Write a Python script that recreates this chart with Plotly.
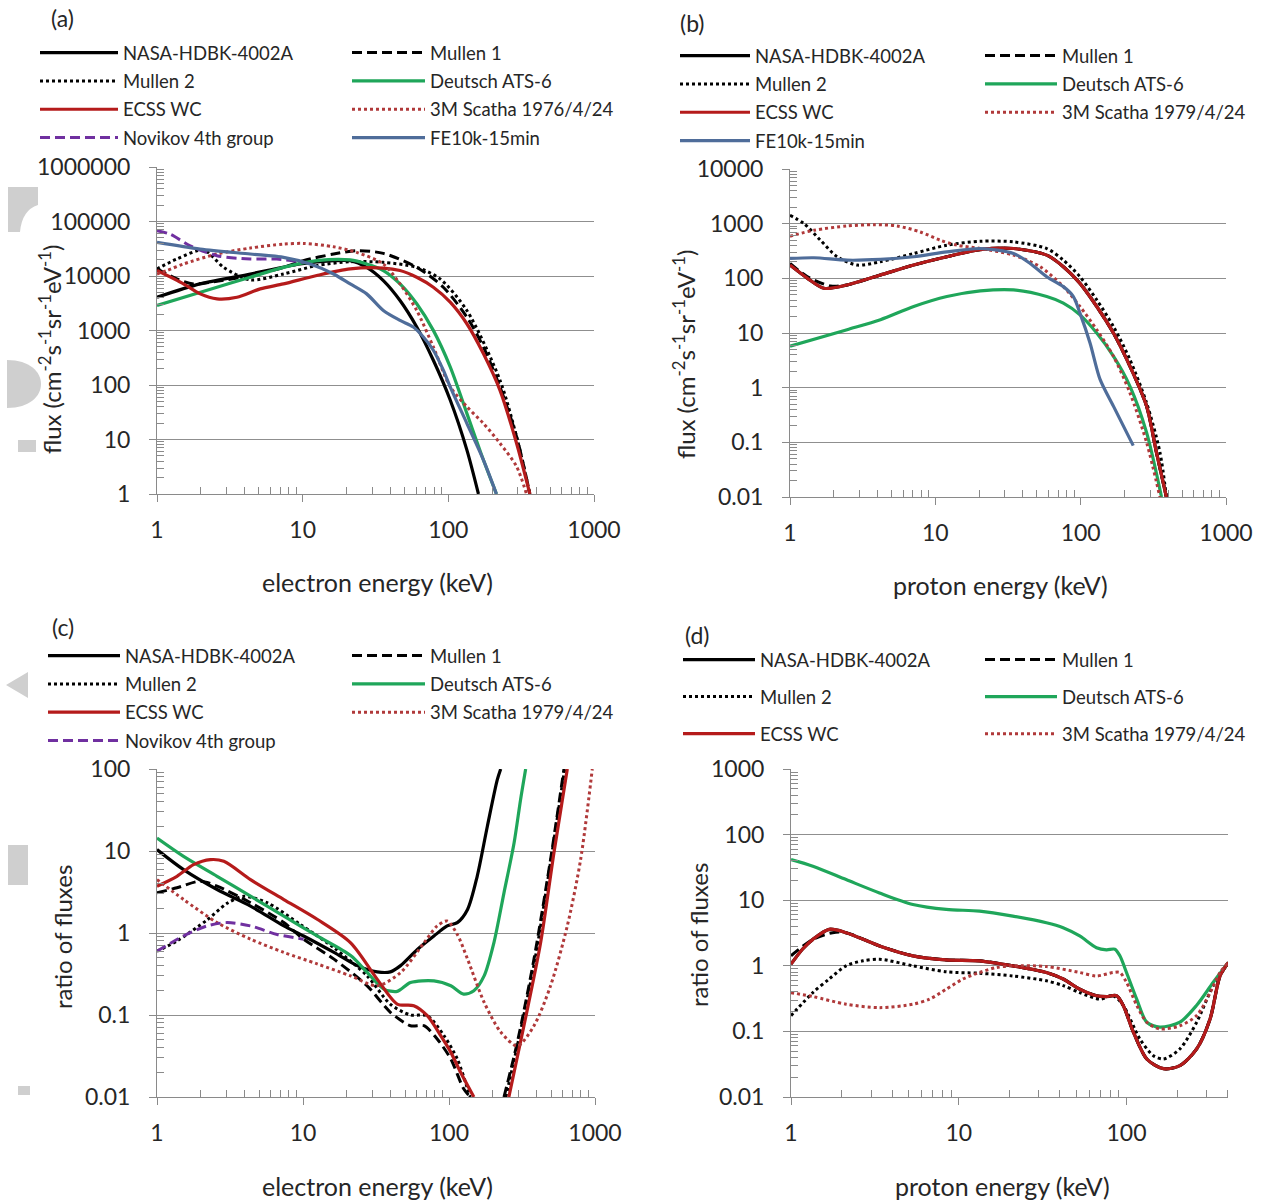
import plotly.graph_objects as go

W, H = 1264, 1202

# ---------------- Panel (a): electron flux ----------------
A_NASA_E = [1, 1.98, 4.37, 9.6, 16.3, 21.2, 27.5, 35.8, 46.6, 60.7, 78.9, 103, 134, 161]
A_NASA_F = [4070, 7160, 10900, 16600, 19100, 19100, 14400, 8240, 3550, 1160, 284, 53, 6.46, 1]
A_M1_E = [1, 1.37, 1.78, 2.58, 4.37, 7.39, 10.1, 16.3, 23.5, 35.8, 60.7, 92.4, 134, 174, 226, 294, 363]
A_M1_F = [13500, 8840, 7160, 8020, 10200, 14400, 19100, 25300, 29100, 26000, 14400, 6220, 1760, 499, 92.7, 11.3, 1]
A_M2_E = [1, 1.37, 2.09, 2.87, 4.37, 7.39, 12.5, 21.2, 35.8, 60.7, 87.7, 134, 226, 294, 363]
A_M2_F = [13500, 20500, 29900, 14400, 8470, 10900, 15500, 18300, 17800, 14400, 8840, 2330, 123, 11.3, 1]
A_DEU_E = [1, 2.58, 4.37, 7.39, 12.5, 21.2, 27.5, 35.8, 46.6, 60.7, 78.9, 103, 134, 174, 214]
A_DEU_F = [2880, 6220, 9480, 14400, 19100, 19700, 16600, 12600, 7160, 3090, 1005, 215, 30.2, 4.24, 1]
A_ECSS_E = [1, 1.52, 1.98, 2.58, 3.54, 5.11, 7.39, 12.5, 21.2, 35.8, 46.6, 60.7, 78.9, 103, 134, 174, 226, 294, 363]
A_ECSS_F = [12600, 7160, 4700, 3810, 4080, 5800, 7160, 10200, 13500, 14000, 12600, 9480, 6220, 3310, 1330, 377, 80.6, 8.55, 1]
A_3M_E = [1, 1.17, 1.52, 2.58, 4.37, 7.39, 10.1, 16.3, 23.5, 35.8, 46.6, 60.7, 78.9, 103, 134, 174, 226, 294, 344]
A_3M_F = [10900, 12600, 16600, 25300, 32600, 38500, 39600, 34400, 27100, 16600, 7160, 2330, 499, 92.7, 40, 19.8, 8.55, 3.2, 1]
A_NOV_E = [1, 1.23, 1.69, 2.58, 4.37, 6.65, 10.1]
A_NOV_F = [67600, 58500, 35900, 23600, 20500, 20500, 17800]
A_FE_E = [1, 1.98, 4.37, 7.39, 11.25, 16.3, 21.2, 27.5, 35.8, 46.6, 57.5, 67.4, 78.9, 92.4, 103, 134, 174, 214]
A_FE_F = [41300, 31200, 25300, 22000, 16600, 10900, 7160, 4700, 2330, 1530, 1160, 760, 434, 187, 92.7, 19.8, 4.24, 1]

# ---------------- Panel (b): proton flux ----------------
B_ECSS_E = [1, 1.32, 1.71, 2.47, 4.19, 7.10, 12.0, 20.4, 34.5, 58.4, 76.0, 98.9, 129, 168, 218, 284, 332, 389]
B_ECSS_F = [175, 100, 65.8, 75.7, 115, 175, 248, 336, 351, 266, 163, 81, 30.5, 10, 2.48, 0.46, 0.066, 0.01]
B_NASA_E = B_ECSS_E
B_NASA_F = B_ECSS_F
B_M1_E = [1, 1.32, 1.90, 2.47, 4.19, 7.10, 12.0, 20.4, 34.5, 58.4, 76.0, 98.9, 129, 168, 218, 284, 332, 389]
B_M1_F = [187, 107, 72.6, 75.7, 115, 175, 248, 336, 351, 266, 163, 81, 30.5, 10, 2.48, 0.46, 0.066, 0.01]
B_M2_E = [1, 1.25, 1.62, 2.11, 2.90, 4.19, 7.10, 12.0, 20.4, 34.5, 58.4, 76.0, 98.9, 129, 168, 218, 284, 351, 389]
B_M2_F = [1419, 1000, 498, 248, 175, 201, 285, 404, 477, 464, 351, 215, 107, 40.4, 13.2, 3.28, 0.53, 0.066, 0.01]
B_DEU_E = [1, 2.47, 4.19, 7.10, 12.0, 20.4, 34.5, 58.4, 76.0, 98.9, 129, 168, 218, 284, 360]
B_DEU_F = [5.72, 11.5, 17.5, 30.5, 46.4, 58.9, 61.4, 46.4, 35.1, 21.5, 10, 3.76, 1.07, 0.152, 0.01]
B_3M_E = [1, 1.46, 2.47, 3.77, 5.46, 7.89, 10.8, 14.1, 20.4, 34.5, 52.6, 76.0, 98.9, 129, 168, 218, 284, 351]
B_3M_F = [589, 757, 907, 959, 907, 705, 498, 404, 351, 266, 163, 70.5, 30.5, 11.5, 3.76, 0.81, 0.1, 0.01]
B_FE_E = [1, 1.46, 2.47, 4.19, 7.10, 12.0, 20.4, 34.5, 44.9, 58.4, 76.0, 89.1, 98.9, 116, 136, 168, 230]
B_FE_F = [231, 238, 215, 222, 248, 305, 351, 285, 187, 107, 70.5, 46.4, 23.1, 6.58, 1.42, 0.46, 0.087]

# ---------------- Panel (c): electron flux ratios ----------------
C_NASA_E = [1, 1.52, 2.58, 4.37, 7.39, 10.1, 16.3, 23.5, 32.2, 39.7, 46.6, 60.7, 78.9, 97.2, 114, 134, 156, 183, 214, 226]
C_NASA_R = [10.4, 5.93, 3.39, 2.13, 1.22, 0.92, 0.58, 0.40, 0.336, 0.336, 0.40, 0.63, 0.92, 1.22, 1.34, 1.94, 4.92, 19.9, 73.5, 100]
C_M1_E = [1, 1.37, 1.98, 2.58, 4.37, 7.39, 10.1, 16.3, 27.5, 39.7, 54.5, 67.4, 83, 103, 126, 140, None, 238, 294, 382, 496, 613]
C_M1_R = [3.09, 3.56, 4.28, 3.72, 2.34, 1.34, 0.84, 0.48, 0.227, 0.108, 0.074, 0.074, 0.051, 0.029, 0.0126, 0.01, None, 0.01, 0.0466, 0.48, 7.85, 100]
C_M2_E = [1, 1.37, 2.2, 3.02, 3.93, 5.68, 9.6, 16.3, 27.5, 39.7, 54.5, 71, 92.4, 114, 134, 140, None, 245, 300, 390, 500, 620]
C_M2_R = [0.60, 0.80, 1.44, 2.3, 2.8, 2.34, 1.27, 0.66, 0.30, 0.135, 0.10, 0.098, 0.056, 0.029, 0.0126, 0.01, None, 0.01, 0.05, 0.5, 8, 100]
C_DEU_E = [1, 1.52, 2.58, 4.37, 7.39, 12.5, 21.2, 27.5, 35.8, 44.2, 54.5, 78.9, 103, 126, 148, 174, 203, 238, 279, 309, 335]
C_DEU_R = [14.4, 8.61, 4.92, 2.81, 1.61, 0.92, 0.53, 0.33, 0.207, 0.194, 0.249, 0.261, 0.227, 0.18, 0.198, 0.30, 0.76, 3.09, 12.5, 42, 100]
C_ECSS_E = [1, 1.37, 1.78, 2.32, 2.87, 4.37, 7.39, 12.5, 21.2, 32.2, 44.2, 57.4, 71, 87.7, 103, 120, 148, None, 257, 326, 424, 523, 646]
C_ECSS_R = [3.72, 4.92, 6.82, 7.85, 7.49, 4.48, 2.56, 1.47, 0.76, 0.274, 0.136, 0.13, 0.098, 0.056, 0.035, 0.020, 0.01, None, 0.01, 0.074, 0.76, 9.46, 100]
C_3M_E = [1, 1.52, 2.58, 4.37, 7.39, 12.5, 21.2, 32.2, 46.6, 67.4, 83, 97.2, 114, 134, 174, 226, 294, 382, 496, 646, 797, 958]
C_3M_R = [4.48, 2.56, 1.34, 0.84, 0.58, 0.42, 0.30, 0.227, 0.33, 0.76, 1.22, 1.40, 0.96, 0.48, 0.143, 0.062, 0.042, 0.074, 0.227, 1.22, 7.85, 100]
C_NOV_E = [1, 1.52, 2.2, 3.02, 4.37, 6.65, 10.1]
C_NOV_R = [0.60, 0.92, 1.22, 1.34, 1.22, 0.96, 0.84]

# ---------------- Panel (d): proton flux ratios ----------------
D_ECSS_E = [1, 1.17, 1.35, 1.69, 2.13, 3.37, 5.33, 8.42, 13.3, 21.0, 33.3, 41.9, 52.6, 66.2, 76.0, 87.2, 95.5, 110, 132, 166, 208, 262, 315, 361, 405]
D_ECSS_R = [1.06, 1.79, 2.53, 3.6, 3.2, 2.01, 1.42, 1.23, 1.19, 1.0, 0.79, 0.63, 0.44, 0.35, 0.34, 0.35, 0.25, 0.097, 0.038, 0.027, 0.030, 0.054, 0.155, 0.70, 1.12]
D_NASA_E = D_ECSS_E
D_NASA_R = D_ECSS_R
D_M1_E = [1, 1.35, 1.77, 2.13, 3.37, 5.33, 8.42, 13.3, 21.0, 33.3, 41.9, 52.6, 66.2, 76.0, 87.2, 95.5, 110, 132, 166, 208, 262, 315, 361, 405]
D_M1_R = [1.42, 2.53, 3.2, 3.2, 2.01, 1.42, 1.23, 1.19, 1.0, 0.79, 0.63, 0.44, 0.35, 0.34, 0.35, 0.25, 0.097, 0.038, 0.027, 0.030, 0.054, 0.155, 0.70, 1.12]
D_M2_E = [1, 1.35, 1.69, 2.13, 2.68, 3.37, 5.33, 8.42, 13.3, 21.0, 33.3, 41.9, 52.6, 69.3, 83.2, 95.5, 120, 144, 166, 208, 262, 329, 405]
D_M2_R = [0.174, 0.39, 0.63, 1.0, 1.19, 1.26, 1.0, 0.81, 0.77, 0.70, 0.59, 0.50, 0.39, 0.31, 0.35, 0.25, 0.077, 0.043, 0.038, 0.054, 0.138, 0.50, 1.12]
D_DEU_E = [1, 1.35, 2.13, 3.37, 5.33, 8.42, 13.3, 21.0, 33.3, 41.9, 52.6, 66.2, 76.0, 85.2, 91.3, 100, 115, 132, 158, 208, 262, 329, 405]
D_DEU_R = [41.5, 32.9, 20.6, 12.9, 8.61, 7.23, 6.82, 5.73, 4.54, 3.81, 2.85, 1.89, 1.75, 1.79, 1.42, 0.79, 0.31, 0.138, 0.116, 0.138, 0.25, 0.56, 1.12]
D_3M_E = [1, 1.35, 2.13, 3.37, 5.33, 6.70, 8.42, 10.6, 13.3, 16.7, 21.0, 33.3, 52.6, 66.2, 83.2, 91.3, 100, 115, 132, 158, 208, 262, 315, 361, 405]
D_3M_R = [0.39, 0.34, 0.26, 0.23, 0.26, 0.31, 0.44, 0.63, 0.79, 0.94, 1.0, 0.975, 0.79, 0.70, 0.79, 0.79, 0.56, 0.25, 0.138, 0.109, 0.122, 0.174, 0.39, 0.79, 1.12]

# ---------------- Axis ticks ----------------
X_TICKS = [1, 10, 100, 1000]
X_TICKTEXT = ["1", "10", "100", "1000"]
XD_TICKS = [1, 10, 100]
XD_TICKTEXT = ["1", "10", "100"]
A_Y_TICKS = [1, 10, 100, 1000, 10000, 100000, 1000000]
A_Y_TICKTEXT = ["1", "10", "100", "1000", "10000", "100000", "1000000"]
B_Y_TICKS = [0.01, 0.1, 1, 10, 100, 1000, 10000]
B_Y_TICKTEXT = ["0.01", "0.1", "1", "10", "100", "1000", "10000"]
C_Y_TICKS = [0.01, 0.1, 1, 10, 100]
C_Y_TICKTEXT = ["0.01", "0.1", "1", "10", "100"]
D_Y_TICKS = [0.01, 0.1, 1, 10, 100, 1000]
D_Y_TICKTEXT = ["0.01", "0.1", "1", "10", "100", "1000"]

# ---------------- Styles ----------------
FONT = "Lato"
TXT = "#262626"
AX = "#8a8a8a"
GRID = "#8f8f8f"
BLACK = "#000000"
GREEN = "#1fa65a"
RED = "#b51b1b"
RED_DOT = "#b0393a"
BLUE = "#4f6d9a"
PURPLE = "#7030a0"
DASH = "10px,5px"
ARTIFACT = "#cfcfcf"

TICK_SIZE = 23
TITLE_SIZE = 25
LEGEND_SIZE = 18.5


def px_x(p):
    return p / W


def px_y(p):
    return 1 - p / H


fig = go.Figure()

panels = {
    "a": [
        ("NASA-HDBK-4002A", A_NASA_E, A_NASA_F, BLACK, "solid", "L"),
        ("Mullen 1", A_M1_E, A_M1_F, BLACK, DASH, "R"),
        ("Mullen 2", A_M2_E, A_M2_F, BLACK, "dot", "L"),
        ("Deutsch ATS-6", A_DEU_E, A_DEU_F, GREEN, "solid", "R"),
        ("ECSS WC", A_ECSS_E, A_ECSS_F, RED, "solid", "L"),
        ("3M Scatha 1976/4/24", A_3M_E, A_3M_F, RED_DOT, "dot", "R"),
        ("Novikov 4th group", A_NOV_E, A_NOV_F, PURPLE, DASH, "L"),
        ("FE10k-15min", A_FE_E, A_FE_F, BLUE, "solid", "R"),
    ],
    "b": [
        ("NASA-HDBK-4002A", B_NASA_E, B_NASA_F, BLACK, "solid", "L"),
        ("Mullen 1", B_M1_E, B_M1_F, BLACK, DASH, "R"),
        ("Mullen 2", B_M2_E, B_M2_F, BLACK, "dot", "L"),
        ("Deutsch ATS-6", B_DEU_E, B_DEU_F, GREEN, "solid", "R"),
        ("ECSS WC", B_ECSS_E, B_ECSS_F, RED, "solid", "L"),
        ("3M Scatha 1979/4/24", B_3M_E, B_3M_F, RED_DOT, "dot", "R"),
        ("FE10k-15min", B_FE_E, B_FE_F, BLUE, "solid", "L"),
    ],
    "c": [
        ("NASA-HDBK-4002A", C_NASA_E, C_NASA_R, BLACK, "solid", "L"),
        ("Mullen 1", C_M1_E, C_M1_R, BLACK, DASH, "R"),
        ("Mullen 2", C_M2_E, C_M2_R, BLACK, "dot", "L"),
        ("Deutsch ATS-6", C_DEU_E, C_DEU_R, GREEN, "solid", "R"),
        ("ECSS WC", C_ECSS_E, C_ECSS_R, RED, "solid", "L"),
        ("3M Scatha 1979/4/24", C_3M_E, C_3M_R, RED_DOT, "dot", "R"),
        ("Novikov 4th group", C_NOV_E, C_NOV_R, PURPLE, DASH, "L"),
    ],
    "d": [
        ("NASA-HDBK-4002A", D_NASA_E, D_NASA_R, BLACK, "solid", "L"),
        ("Mullen 1", D_M1_E, D_M1_R, BLACK, DASH, "R"),
        ("Mullen 2", D_M2_E, D_M2_R, BLACK, "dot", "L"),
        ("Deutsch ATS-6", D_DEU_E, D_DEU_R, GREEN, "solid", "R"),
        ("ECSS WC", D_ECSS_E, D_ECSS_R, RED, "solid", "L"),
        ("3M Scatha 1979/4/24", D_3M_E, D_3M_R, RED_DOT, "dot", "R"),
    ],
}

axis_ids = {"a": ("x", "y"), "b": ("x2", "y2"), "c": ("x3", "y3"), "d": ("x4", "y4")}
legend_ids = {
    ("a", "L"): "legend", ("a", "R"): "legend2",
    ("b", "L"): "legend3", ("b", "R"): "legend4",
    ("c", "L"): "legend5", ("c", "R"): "legend6",
    ("d", "L"): "legend7", ("d", "R"): "legend8",
}

for key, traces in panels.items():
    xa, ya = axis_ids[key]
    for name, xs, ys, color, dash, col in traces:
        width = 3.2 if dash == "solid" else 3
        fig.add_trace(go.Scatter(
            x=xs, y=ys, name=name, mode="lines",
            line=dict(color=color, width=width, dash=dash, shape="spline", smoothing=0.8),
            xaxis=xa, yaxis=ya,
            legend=legend_ids[(key, col)],
            legendgroup=key + ":" + name,
            connectgaps=False, hoverinfo="skip",
        ))


def minor_vals(lo, hi):
    out = []
    for k in range(lo, hi):
        for m in range(2, 10):
            out.append(m * 10 ** k)
    return out


def xaxis(domain, rng, tv, tt, anchor, mv):
    return dict(
        type="log", domain=domain, range=rng, anchor=anchor,
        tickmode="array", tickvals=tv, ticktext=tt,
        showgrid=False, showline=True, linecolor=AX, linewidth=1,
        ticks="outside", ticklen=7, tickcolor=AX, tickwidth=1,
        tickfont=dict(size=TICK_SIZE, color=TXT, family=FONT),
        ticklabelstandoff=8,
        minor=dict(tickmode="array", tickvals=mv, ticks="inside", ticklen=7,
                   tickcolor=AX, tickwidth=1, showgrid=False),
        zeroline=False, fixedrange=True,
    )


def yaxis(domain, rng, tv, tt, anchor, mv):
    return dict(
        type="log", domain=domain, range=rng, anchor=anchor,
        tickmode="array", tickvals=tv, ticktext=tt,
        showgrid=True, gridcolor=GRID, gridwidth=1,
        showline=True, linecolor=AX, linewidth=1,
        ticks="outside", ticklen=7, tickcolor=AX, tickwidth=1,
        tickfont=dict(size=TICK_SIZE, color=TXT, family=FONT),
        ticklabelstandoff=14,
        minor=dict(tickmode="array", tickvals=mv, ticks="inside", ticklen=7,
                   tickcolor=AX, tickwidth=1, showgrid=False),
        zeroline=False, fixedrange=True,
    )


dom_a_x = [px_x(157), px_x(594)]
dom_b_x = [px_x(790), px_x(1226)]
dom_c_x = [px_x(157), px_x(595)]
dom_d_x = [px_x(791), px_x(1228)]
dom_top_a = [px_y(494), px_y(167)]
dom_top_b = [px_y(497), px_y(169)]
dom_bot = [px_y(1097), px_y(769)]


def legend_box(left_px, top_px, item_w, gap=1.3):
    return dict(
        x=px_x(left_px), y=px_y(top_px), xanchor="left", yanchor="top",
        orientation="v", bgcolor="rgba(0,0,0,0)", borderwidth=0,
        font=dict(family=FONT, size=LEGEND_SIZE, color=TXT),
        itemwidth=item_w, tracegroupgap=gap, traceorder="grouped",
        itemclick=False, itemdoubleclick=False,
    )


annotations = []


def note(text, xp, yp, size=TITLE_SIZE, angle=0):
    annotations.append(dict(
        text=text, x=px_x(xp), y=px_y(yp), xref="paper", yref="paper",
        xanchor="center", yanchor="middle", showarrow=False, textangle=angle,
        font=dict(family=FONT, size=size, color=TXT),
    ))


note("(a)", 62, 18, size=23)
note("(b)", 692, 23, size=23)
note("(c)", 63, 627, size=23)
note("(d)", 697, 635, size=23)
note("electron energy (keV)", 377, 582)
note("proton energy (keV)", 1000, 585)
note("electron energy (keV)", 377, 1186)
note("proton energy (keV)", 1002, 1186)
FLUX_TITLE = "flux (cm<sup>-2</sup>s<sup>-1</sup>sr<sup>-1</sup>eV<sup>-1</sup>)"
note(FLUX_TITLE, 50, 350, size=24, angle=-90)
note(FLUX_TITLE, 684, 355, size=24, angle=-90)
note("ratio of fluxes", 62, 937, size=24, angle=-90)
note("ratio of fluxes", 698, 935, size=24, angle=-90)


def P(x, y):
    return "%f %f" % (px_x(x), px_y(y))


# faint page artifacts along the left edge of the reference
shapes = [
    dict(type="path", xref="paper", yref="paper",
         path="M %s L %s L %s Q %s %s L %s Z" % (
             P(8, 187), P(38, 187), P(38, 205), P(22, 210), P(20, 232), P(8, 232)),
         fillcolor=ARTIFACT, line=dict(width=0), layer="below"),
    dict(type="path", xref="paper", yref="paper",
         path="M %s C %s %s %s C %s %s %s Z" % (
             P(7, 360), P(30, 360), P(41, 372), P(41, 384),
             P(41, 396), P(30, 408), P(7, 408)),
         fillcolor=ARTIFACT, line=dict(width=0), layer="below"),
    dict(type="rect", xref="paper", yref="paper",
         x0=px_x(18), x1=px_x(36), y0=px_y(452), y1=px_y(440),
         fillcolor=ARTIFACT, line=dict(width=0), layer="below"),
    dict(type="path", xref="paper", yref="paper",
         path="M %s L %s L %s Z" % (P(6, 685), P(28, 672), P(28, 698)),
         fillcolor=ARTIFACT, line=dict(width=0), layer="below"),
    dict(type="rect", xref="paper", yref="paper",
         x0=px_x(8), x1=px_x(28), y0=px_y(885), y1=px_y(845),
         fillcolor=ARTIFACT, line=dict(width=0), layer="below"),
    dict(type="rect", xref="paper", yref="paper",
         x0=px_x(18), x1=px_x(30), y0=px_y(1095), y1=px_y(1086),
         fillcolor=ARTIFACT, line=dict(width=0), layer="below"),
]

fig.update_layout(
    width=W, height=H,
    margin=dict(l=0, r=0, t=0, b=0, autoexpand=False),
    paper_bgcolor="white", plot_bgcolor="rgba(0,0,0,0)",
    font=dict(family=FONT, color=TXT),
    showlegend=True,
    xaxis=xaxis(dom_a_x, [0, 3], X_TICKS, X_TICKTEXT, "y", minor_vals(0, 3)),
    yaxis=yaxis(dom_top_a, [0, 6], A_Y_TICKS, A_Y_TICKTEXT, "x", minor_vals(0, 6)),
    xaxis2=xaxis(dom_b_x, [0, 3], X_TICKS, X_TICKTEXT, "y2", minor_vals(0, 3)),
    yaxis2=yaxis(dom_top_b, [-2, 4], B_Y_TICKS, B_Y_TICKTEXT, "x2", minor_vals(-2, 4)),
    xaxis3=xaxis(dom_c_x, [0, 3], X_TICKS, X_TICKTEXT, "y3", minor_vals(0, 3)),
    yaxis3=yaxis(dom_bot, [-2, 2], C_Y_TICKS, C_Y_TICKTEXT, "x3", minor_vals(-2, 2)),
    xaxis4=xaxis(dom_d_x, [0, 2.605], XD_TICKS, XD_TICKTEXT, "y4", [v for v in minor_vals(0, 3) if v <= 400]),
    yaxis4=yaxis(dom_bot, [-2, 3], D_Y_TICKS, D_Y_TICKTEXT, "x4", minor_vals(-2, 3)),
    legend=legend_box(35, 34, 78),
    legend2=legend_box(347, 34, 73),
    legend3=legend_box(675, 37, 70),
    legend4=legend_box(980, 37, 72),
    legend5=legend_box(43, 637, 72),
    legend6=legend_box(347, 637, 73),
    legend7=legend_box(678, 641, 72, gap=10),
    legend8=legend_box(980, 641, 72, gap=10),
    annotations=annotations,
    shapes=shapes,
)

fig.write_html("out.html")
